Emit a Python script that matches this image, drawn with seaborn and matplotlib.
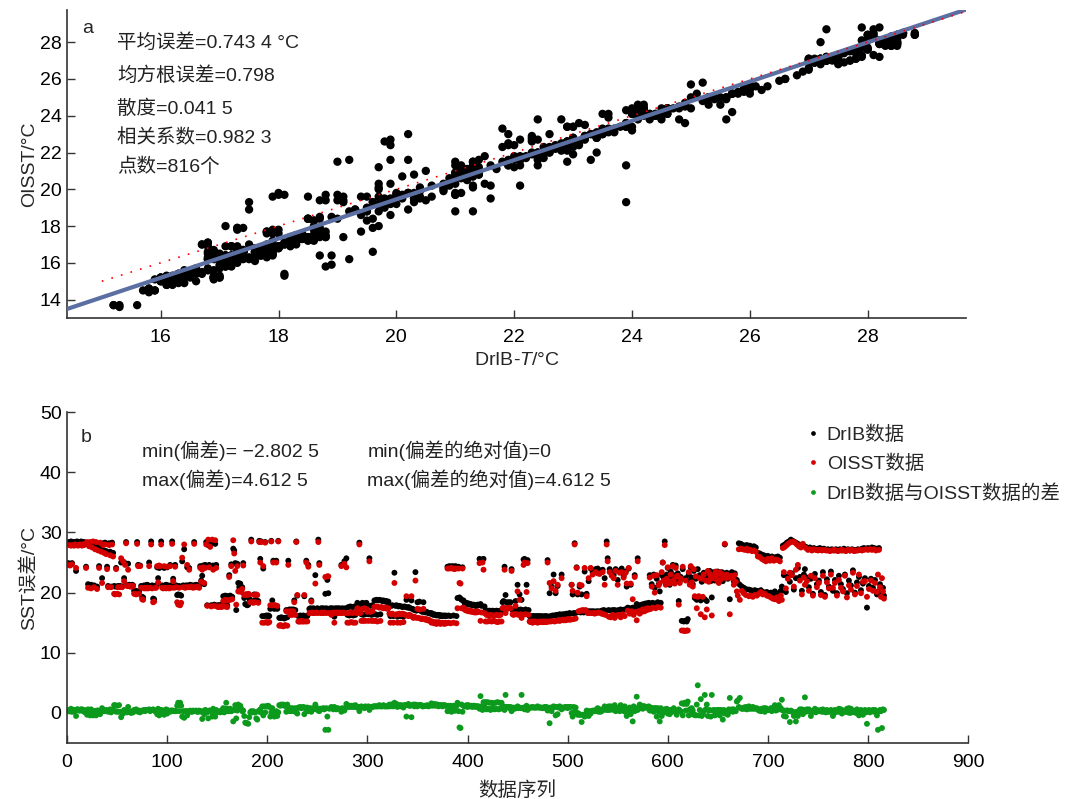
import numpy as np
import pandas as pd
import matplotlib.pyplot as plt
import seaborn as sns

# DrIB / OISST sea surface temperature (°C) per data index
drib_1 = [24.9, 28.4, 24.8, 28.5, 24.9, 28.4, 28.3, 28.4, 23.6, 28.5,
          28.4, 28.3, 28.4, 28.5, 28.4, 28.3, 28.4, 28.2, 24.3, 28.1,
          21.4, 27.9, 28.0, 21.3, 27.7, 28.1, 21.2, 27.5, 28.0, 21.0,
          27.4, 24.4, 28.1, 27.2, 22.4, 28.2, 27.0, 28.3, 26.9, 24.3,
          21.1, 28.2, 26.8, 21.0, 28.3, 26.6, 21.1, 21.0, 24.1, 21.0,
          21.1, 21.0, 21.1, 25.0, 21.0, 25.1, 22.4, 24.9, 28.4, 21.2,
          24.8, 21.3, 21.2, 21.1, 21.3, 21.2, 20.3, 20.2, 20.3, 28.4,
          24.6, 20.2, 24.5, 21.1, 19.3, 19.2, 21.2, 21.1, 21.2, 21.3,
          21.2, 25.0, 21.1, 28.5, 21.2, 19.0, 18.9, 21.1, 21.2, 24.2,
          22.4, 24.1, 24.2, 28.5, 21.2, 21.1, 24.1, 21.2, 21.3, 24.2,
          21.2, 21.1]
oisst_1 = [24.6, 27.9, 24.5, 27.8, 24.7, 27.9, 27.8, 28.0, 24.1, 27.9,
           27.8, 27.9, 28.0, 27.9, 27.8, 28.0, 27.9, 28.1, 24.1, 28.4,
           20.8, 27.7, 28.4, 20.7, 27.5, 28.5, 20.9, 27.2, 28.4, 20.6,
           27.0, 24.1, 28.3, 26.8, 21.6, 27.9, 26.6, 28.0, 26.4, 23.9,
           20.9, 27.9, 26.2, 20.9, 28.0, 26.0, 19.8, 19.7, 23.9, 19.8,
           20.9, 19.7, 20.9, 25.7, 20.9, 25.2, 21.9, 24.6, 28.2, 21.1,
           23.8, 21.1, 21.0, 21.1, 21.0, 21.1, 19.8, 19.8, 19.7, 28.1,
           24.4, 19.8, 24.4, 20.8, 18.9, 18.8, 20.7, 20.8, 20.7, 20.8,
           20.7, 24.4, 20.8, 28.0, 20.7, 18.4, 18.5, 20.8, 20.8, 24.4,
           21.7, 24.5, 24.4, 28.0, 20.8, 20.7, 24.4, 20.8, 20.7, 24.3,
           20.8, 20.7]

drib_2 = [24.6, 21.2, 28.5, 22.3, 21.1, 24.6, 21.2, 19.6, 19.7, 21.1,
          19.6, 19.5, 25.2, 21.2, 27.2, 21.1, 21.2, 24.2, 21.2, 24.1,
          21.3, 21.2, 21.1, 21.2, 28.4, 21.2, 21.3, 21.2, 21.1, 21.2,
          24.4, 22.0, 22.8, 24.5, 21.4, 24.6, 28.4, 17.9, 27.9, 24.6,
          28.0, 17.9, 28.2, 24.5, 18.0, 28.1, 24.6, 17.9, 17.8, 17.9,
          17.8, 18.0, 17.9, 19.4, 17.8, 19.5, 19.4, 17.9, 19.4, 22.9,
          19.5, 24.7, 19.3, 27.3, 27.0, 24.9, 17.1, 24.8, 21.6, 20.9,
          21.5, 20.8, 20.9, 24.9, 19.1, 18.1, 18.0, 17.9, 18.0, 19.0,
          18.5, 28.8, 18.5, 18.6, 19.7, 18.5, 18.8, 18.5, 18.6, 28.6,
          25.6, 28.5, 16.1, 24.0, 16.1, 28.4, 16.2, 16.1, 16.2, 16.1,
          17.3, 28.6]
oisst_2 = [24.4, 20.8, 28.1, 21.9, 20.8, 24.3, 20.9, 18.4, 18.0, 20.8,
           17.9, 18.3, 25.8, 20.9, 28.0, 20.8, 20.9, 24.6, 20.9, 23.8,
           20.9, 21.0, 20.9, 20.8, 28.1, 20.9, 20.9, 21.0, 20.9, 20.8,
           24.1, 21.8, 23.8, 24.2, 21.6, 24.1, 28.0, 17.8, 28.8, 24.2,
           27.6, 17.7, 28.8, 23.8, 17.8, 28.7, 24.1, 17.7, 17.6, 17.7,
           17.7, 17.6, 17.7, 18.6, 17.7, 18.8, 17.7, 17.6, 18.7, 22.6,
           18.8, 24.4, 18.9, 28.7, 26.5, 23.6, 18.0, 24.4, 20.2, 20.2,
           20.3, 20.1, 20.6, 24.5, 19.6, 19.7, 19.7, 19.6, 19.8, 19.7,
           18.4, 28.5, 18.4, 18.3, 19.6, 18.4, 19.7, 19.6, 18.3, 28.4,
           25.0, 28.4, 15.0, 24.4, 15.0, 28.3, 15.1, 15.0, 15.0, 15.1,
           17.9, 28.5]

drib_3 = [18.7, 25.3, 17.3, 17.4, 25.3, 17.3, 28.6, 15.8, 15.8, 15.9,
          15.8, 15.8, 15.7, 15.8, 17.1, 15.9, 25.3, 17.2, 17.1, 17.2,
          17.1, 17.2, 18.7, 17.1, 28.5, 19.5, 16.1, 16.1, 16.2, 16.1,
          16.1, 16.2, 19.4, 16.1, 25.3, 16.1, 24.6, 17.3, 17.4, 18.7,
          17.3, 17.4, 17.3, 22.9, 17.3, 17.4, 28.8, 24.9, 17.3, 17.4,
          17.3, 17.4, 17.3, 19.8, 17.4, 22.1, 19.9, 17.3, 17.4, 17.3,
          17.4, 17.3, 16.0, 17.4, 17.3, 17.4, 17.3, 17.4, 17.3, 24.6,
          17.4, 17.3, 25.2, 17.4, 25.7, 16.3, 17.6, 16.2, 17.7, 16.3,
          17.6, 16.2, 17.7, 16.3, 17.6, 18.3, 17.7, 28.3, 17.6, 16.4,
          18.3, 16.3, 18.2, 16.4, 18.3, 17.8, 16.4, 25.7, 17.8, 16.3,
          17.9, 16.4]
oisst_3 = [17.9, 25.0, 17.9, 17.9, 25.0, 17.8, 28.5, 14.5, 14.6, 14.5,
           14.5, 14.4, 14.5, 14.6, 16.9, 14.5, 24.6, 16.9, 16.3, 16.9,
           16.3, 16.9, 18.4, 16.3, 28.4, 19.6, 15.2, 15.2, 15.2, 15.3,
           15.2, 15.2, 19.6, 15.2, 25.0, 15.2, 24.3, 16.6, 16.6, 18.5,
           16.7, 16.6, 16.6, 21.5, 16.7, 16.6, 28.4, 24.6, 16.6, 16.7,
           16.6, 16.6, 16.7, 22.6, 16.6, 22.7, 22.7, 16.6, 16.6, 16.3,
           16.6, 16.7, 15.0, 16.6, 16.7, 16.6, 16.6, 16.7, 16.6, 24.4,
           16.6, 16.7, 24.8, 16.6, 24.2, 15.0, 16.6, 15.0, 16.7, 15.1,
           16.6, 15.0, 16.7, 15.0, 16.6, 17.4, 16.7, 28.0, 16.6, 15.3,
           17.3, 15.3, 17.4, 15.3, 17.3, 16.8, 15.3, 25.2, 16.8, 15.3,
           16.9, 15.3]

drib_4 = [18.7, 16.4, 18.8, 16.3, 18.7, 18.8, 16.4, 18.7, 18.6, 18.7,
          18.6, 18.5, 18.6, 18.4, 18.5, 17.9, 16.1, 17.8, 17.9, 16.1,
          23.3, 17.8, 17.9, 16.0, 17.7, 17.8, 16.1, 17.7, 17.6, 16.0,
          17.7, 17.6, 18.8, 17.5, 17.6, 17.5, 17.4, 18.7, 17.3, 17.2,
          17.1, 23.4, 17.0, 18.4, 17.1, 18.5, 17.0, 16.9, 16.8, 18.4,
          16.8, 16.7, 16.8, 16.7, 16.6, 16.6, 16.5, 16.6, 16.4, 16.3,
          16.4, 16.3, 16.2, 16.3, 16.2, 16.3, 16.1, 16.2, 16.1, 16.2,
          16.1, 16.2, 16.1, 24.3, 16.2, 24.4, 16.1, 24.3, 24.4, 16.2,
          24.3, 24.4, 16.1, 19.1, 24.3, 19.2, 19.0, 18.8, 24.2, 18.7,
          18.3, 18.2, 18.3, 18.1, 18.2, 18.0, 18.1, 18.0, 17.9, 18.0,
          17.9, 17.8]
oisst_4 = [17.6, 15.3, 17.7, 15.2, 17.6, 17.5, 15.3, 17.6, 17.5, 17.4,
           17.5, 17.4, 17.5, 17.3, 17.4, 16.5, 15.0, 16.4, 16.5, 15.0,
           21.6, 16.3, 16.4, 15.0, 16.4, 16.5, 15.0, 16.4, 16.5, 15.1,
           16.4, 16.3, 19.4, 16.2, 16.1, 16.3, 16.2, 19.4, 16.0, 15.8,
           16.0, 22.0, 15.8, 17.3, 15.8, 17.2, 15.7, 15.6, 15.7, 17.3,
           15.6, 15.5, 15.6, 15.4, 15.5, 15.4, 15.2, 15.0, 15.2, 15.0,
           14.9, 15.1, 14.8, 14.9, 15.1, 15.0, 14.8, 14.9, 15.0, 14.9,
           14.8, 15.0, 14.9, 24.0, 15.0, 24.0, 14.9, 24.1, 24.0, 15.0,
           23.9, 24.0, 14.9, 17.4, 24.0, 21.6, 21.5, 17.4, 24.0, 17.5,
           17.2, 17.1, 17.0, 17.1, 16.9, 16.9, 17.0, 16.8, 16.9, 16.8,
           16.7, 16.8]

drib_5 = [17.8, 18.0, 17.9, 25.6, 18.1, 17.8, 25.5, 25.6, 17.7, 17.0,
          16.9, 17.0, 16.9, 17.0, 16.8, 16.9, 17.0, 16.9, 16.8, 16.9,
          17.0, 16.9, 16.8, 16.9, 17.0, 16.9, 18.4, 18.6, 24.3, 19.6,
          18.4, 18.3, 18.4, 18.3, 18.4, 23.9, 17.1, 17.2, 17.1, 18.6,
          17.2, 21.3, 17.1, 19.7, 17.2, 18.8, 17.1, 25.5, 25.6, 17.2,
          21.3, 25.4, 17.1, 16.1, 16.0, 16.1, 16.0, 16.1, 16.0, 16.1,
          16.0, 16.1, 16.0, 16.1, 16.0, 16.1, 15.9, 16.0, 16.1, 16.0,
          16.1, 25.4, 16.0, 19.9, 16.1, 21.0, 16.2, 23.0, 16.2, 19.9,
          16.3, 21.1, 16.3, 16.4, 16.3, 23.0, 16.4, 16.3, 16.4, 16.4,
          16.5, 16.4, 16.5, 16.6, 16.5, 21.3, 19.7, 16.6, 28.2, 16.6,
          24.2, 19.7]
oisst_5 = [16.7, 16.9, 16.8, 24.9, 15.3, 16.7, 25.0, 23.8, 16.6, 15.2,
           16.3, 15.2, 16.2, 15.3, 16.3, 15.2, 16.2, 15.3, 16.2, 15.2,
           16.3, 15.1, 16.2, 15.2, 16.3, 15.2, 17.4, 17.5, 23.8, 16.6,
           17.4, 17.3, 17.4, 17.5, 17.4, 23.6, 16.4, 16.3, 16.4, 17.8,
           16.4, 20.2, 16.3, 18.8, 16.4, 15.8, 16.3, 24.6, 25.0, 16.4,
           20.1, 24.9, 16.3, 15.2, 15.1, 15.2, 15.0, 15.2, 15.1, 15.2,
           15.1, 15.0, 15.1, 15.2, 15.1, 15.2, 15.1, 15.2, 15.1, 15.2,
           15.1, 25.0, 15.2, 21.6, 15.2, 20.7, 15.3, 21.9, 15.2, 20.3,
           15.3, 21.3, 15.4, 15.3, 15.4, 22.4, 15.5, 15.4, 15.5, 15.4,
           15.5, 15.6, 15.5, 15.6, 15.5, 21.3, 20.3, 15.6, 28.0, 15.7,
           24.1, 20.0]

drib_6 = [16.8, 21.0, 16.7, 19.7, 16.8, 16.7, 23.5, 16.8, 19.8, 16.9,
          21.9, 16.9, 24.0, 16.9, 23.4, 16.9, 16.8, 23.9, 16.9, 24.0,
          16.9, 23.7, 16.8, 17.0, 23.8, 17.1, 22.4, 17.0, 28.5, 25.7,
          17.1, 23.9, 17.0, 23.4, 17.1, 22.9, 17.1, 23.9, 17.0, 22.1,
          17.1, 23.6, 17.2, 24.0, 17.1, 22.8, 17.2, 23.5, 21.0, 17.5,
          24.0, 17.4, 21.3, 17.3, 17.5, 17.4, 22.9, 17.6, 18.1, 25.7,
          17.8, 17.9, 17.8, 18.0, 17.9, 18.1, 18.0, 18.2, 18.1, 18.2,
          18.3, 22.9, 18.2, 21.4, 18.3, 23.0, 20.8, 18.2, 22.3, 18.4,
          21.4, 20.2, 18.3, 22.9, 25.0, 22.4, 28.5, 21.6, 23.0, 24.1,
          22.4, 21.3, 23.5, 22.1, 24.6, 22.9, 21.8, 24.5, 22.4, 23.2,
          18.6, 21.9]
oisst_6 = [16.9, 21.3, 17.0, 21.2, 17.1, 17.0, 24.1, 17.1, 19.4, 16.6,
           22.4, 16.6, 24.1, 16.6, 23.0, 16.6, 16.5, 23.4, 16.6, 23.2,
           16.7, 23.1, 16.6, 16.5, 23.4, 16.4, 21.3, 16.3, 28.0, 25.2,
           16.0, 23.4, 15.9, 22.8, 16.3, 22.4, 15.8, 23.6, 16.2, 21.3,
           16.3, 23.3, 15.9, 23.4, 16.4, 22.5, 16.1, 23.3, 21.5, 17.0,
           24.1, 16.5, 21.5, 16.9, 18.9, 16.3, 22.6, 16.8, 15.4, 25.2,
           16.9, 16.5, 17.0, 16.8, 17.2, 17.0, 16.9, 17.3, 17.1, 17.4,
           17.2, 22.5, 17.3, 21.0, 17.5, 22.8, 20.0, 17.4, 22.9, 17.6,
           21.2, 21.6, 17.5, 23.4, 25.0, 22.0, 27.9, 21.3, 22.3, 24.2,
           21.9, 21.5, 23.0, 21.7, 24.4, 22.1, 21.5, 24.1, 22.7, 22.8,
           18.0, 21.6]

drib_7 = [22.6, 15.3, 23.9, 15.2, 15.3, 22.4, 15.2, 15.6, 23.0, 21.9,
          24.2, 22.5, 21.4, 23.6, 19.1, 22.3, 18.8, 23.9, 19.0, 22.9,
          18.7, 21.8, 19.1, 23.3, 18.9, 22.6, 18.6, 23.1, 22.2, 23.6,
          21.9, 19.2, 22.8, 23.4, 22.0, 23.2, 22.6, 23.5, 22.1, 23.0,
          22.7, 23.4, 21.9, 23.2, 28.0, 22.7, 23.3, 22.3, 23.1, 18.9,
          22.9, 23.4, 22.5, 21.9, 23.2, 22.1, 22.1, 21.6, 28.2, 21.3,
          28.1, 21.0, 27.9, 20.8, 27.8, 20.6, 27.9, 27.7, 20.5, 27.8,
          20.4, 27.6, 20.3, 27.7, 20.4, 27.5, 20.3, 26.6, 20.2, 26.5,
          20.4, 26.3, 20.1, 26.2, 20.0, 26.0, 20.1, 26.1, 19.9, 25.9,
          20.0, 26.0, 19.8, 25.8, 20.2, 25.9, 19.7, 26.0, 19.9, 25.8,
          20.3, 21.0]
oisst_7 = [22.3, 13.7, 24.3, 13.7, 13.6, 22.0, 13.7, 13.7, 23.4, 21.3,
           24.4, 21.7, 21.0, 23.9, 19.4, 22.7, 17.4, 19.3, 19.4, 22.4,
           16.4, 22.3, 19.3, 23.0, 15.9, 22.0, 17.2, 23.6, 21.8, 23.1,
           22.5, 16.2, 22.4, 22.9, 22.4, 23.5, 22.1, 23.0, 21.6, 23.4,
           22.2, 23.1, 23.0, 22.7, 28.1, 22.4, 23.0, 22.6, 22.5, 16.4,
           22.6, 22.8, 22.3, 21.3, 22.9, 21.8, 20.2, 19.5, 27.2, 18.8,
           27.3, 20.3, 27.2, 19.9, 27.1, 19.6, 27.3, 27.0, 19.4, 27.1,
           19.5, 26.9, 19.3, 27.0, 19.6, 26.8, 19.5, 26.0, 19.8, 25.9,
           20.1, 25.6, 19.7, 25.4, 19.8, 25.2, 19.5, 25.6, 19.4, 25.3,
           19.2, 25.7, 19.0, 25.3, 18.9, 25.5, 19.2, 25.4, 18.6, 25.2,
           19.5, 18.8]

drib_8 = [27.8, 22.9, 28.0, 20.1, 28.3, 22.7, 28.5, 21.8, 28.8, 23.2,
          28.6, 20.5, 28.4, 22.4, 28.2, 24.1, 28.0, 22.6, 27.8, 20.3,
          27.9, 23.0, 23.9, 27.6, 22.5, 27.4, 20.9, 27.5, 22.3, 27.3,
          19.8, 27.4, 23.1, 27.2, 21.4, 27.3, 22.0, 27.4, 20.1, 27.2,
          23.4, 27.3, 19.6, 27.1, 22.2, 27.2, 21.0, 27.1, 23.5, 27.2,
          20.3, 27.0, 22.1, 27.2, 19.9, 27.1, 22.8, 27.2, 21.4, 27.0,
          20.6, 27.3, 23.0, 27.1, 19.9, 27.2, 22.0, 27.0, 21.2, 27.2,
          23.7, 27.1, 20.0, 27.0, 21.7, 27.2, 22.6, 27.1, 20.4, 27.3,
          21.5, 27.4, 22.4, 27.3, 17.5, 27.4, 21.1, 27.3, 22.3, 27.5,
          20.8, 27.4, 22.1, 27.3, 19.7, 20.2, 27.4, 21.4, 19.6, 19.9,
          20.8, 19.5]
oisst_8 = [27.4, 23.4, 27.6, 20.7, 27.9, 22.3, 28.2, 23.3, 28.4, 22.9,
           28.5, 21.0, 28.3, 23.8, 28.0, 24.6, 27.7, 22.0, 27.5, 19.7,
           28.1, 22.5, 21.3, 27.4, 21.9, 27.1, 20.3, 27.2, 22.8, 27.0,
           19.5, 27.2, 22.4, 27.1, 20.9, 27.0, 21.6, 27.1, 19.6, 27.0,
           22.8, 27.1, 19.3, 27.0, 21.7, 27.0, 20.7, 26.9, 23.0, 27.0,
           20.8, 27.1, 21.6, 27.0, 19.5, 26.9, 22.1, 27.0, 20.8, 27.1,
           20.2, 27.0, 22.8, 26.9, 19.2, 27.1, 21.2, 27.0, 20.5, 27.1,
           23.3, 26.9, 19.7, 27.0, 21.1, 27.0, 23.0, 27.1, 19.9, 27.0,
           21.8, 27.1, 21.9, 27.2, 19.3, 27.1, 20.6, 27.2, 22.0, 27.1,
           20.3, 27.2, 21.6, 27.0, 20.1, 23.0, 27.1, 20.9, 19.3, 22.4,
           20.2, 19.0]

# fitted line of panel a (slope, intercept)
fit_slope = 1.067
fit_intercept = -1.885

stats_a = ['平均误差=0.743 4 °C', '均方根误差=0.798', '散度=0.041 5',
           '相关系数=0.982 3', '点数=816个']
stats_b_left = ['min(偏差)= \u22122.802 5', 'max(偏差)=4.612 5']
stats_b_right = ['min(偏差的绝对值)=0', 'max(偏差的绝对值)=4.612 5']
series_names = ['DrIB数据', 'OISST数据', 'DrIB数据与OISST数据的差']

drib = np.array(drib_1 + drib_2 + drib_3 + drib_4 + drib_5 + drib_6 + drib_7 + drib_8)
oisst = np.array(oisst_1 + oisst_2 + oisst_3 + oisst_4 + oisst_5 + oisst_6 + oisst_7 + oisst_8)
assert len(drib) == len(oisst) == 816, (len(drib), len(oisst))
bias = np.round(drib - oisst, 2)
index = np.arange(1, len(drib) + 1)

sns.set_theme(style='ticks')
plt.rcParams['font.family'] = ['Liberation Sans', 'Noto Sans CJK SC']
plt.rcParams['mathtext.fontset'] = 'custom'
plt.rcParams['mathtext.rm'] = 'Liberation Sans'
plt.rcParams['mathtext.it'] = 'Liberation Sans:italic'
plt.rcParams['axes.unicode_minus'] = False

FS = 14
fig = plt.figure(figsize=(10.71, 7.99), dpi=100)
ax_a = fig.add_axes([0.0626, 0.602, 0.8394, 0.3855])
ax_b = fig.add_axes([0.0626, 0.070, 0.8413, 0.4143])

# ---- panel a: scatter OISST vs DrIB
sns.scatterplot(x=drib, y=oisst, color='black', s=36, edgecolor='none',
                linewidth=0, ax=ax_a, zorder=2)
xlim_a = (14.41, 29.67)
fit_x = np.array(xlim_a)
sns.lineplot(x=fit_x, y=fit_slope * fit_x + fit_intercept, color='#5b6fa2',
             lw=3, ax=ax_a, zorder=3)
one_x = np.array([15.0, xlim_a[1]])
ax_a.plot(one_x, one_x, color='red', lw=1.2, ls=(0, (1, 5)), zorder=4)
ax_a.set_xlim(*xlim_a)
ax_a.set_ylim(13.0, 29.75)
ax_a.set_xticks(np.arange(16, 29, 2))
ax_a.set_yticks(np.arange(14, 29, 2))
ax_a.set_xlabel('DrIB-$T$/°C', fontsize=FS, labelpad=4)
ax_a.set_ylabel('OISST/°C', fontsize=FS, labelpad=1)
ax_a.text(14.66, 28.77, 'a', fontsize=FS, va='center', ha='left')
for s, y in zip(stats_a, [28.0, 26.2, 24.37, 22.8, 21.22]):
    ax_a.text(15.26, y, s, fontsize=FS, va='center', ha='left', color='#222222')

# ---- panel b: series against data index
long = pd.DataFrame({
    'idx': np.concatenate([index, index, index]),
    'value': np.concatenate([drib, oisst, bias]),
    'series': np.repeat(series_names, len(index)),
})
sns.scatterplot(data=long, x='idx', y='value', hue='series', hue_order=series_names,
                palette=['black', '#d40000', '#0b9a1c'], s=18, edgecolor='none',
                linewidth=0, ax=ax_b)
ax_b.set_xlim(0, 900)
ax_b.set_ylim(-5, 50)
ax_b.set_xticks(np.arange(0, 901, 100))
ax_b.set_yticks(np.arange(0, 51, 10))
ax_b.set_xlabel('数据序列', fontsize=FS, labelpad=7)
ax_b.set_ylabel('SST误差/°C', fontsize=FS, labelpad=1)
ax_b.text(14, 45.8, 'b', fontsize=FS, va='center', ha='left')
for s, y in zip(stats_b_left, [43.6, 38.8]):
    ax_b.text(75, y, s, fontsize=FS, va='center', ha='left', color='#222222')
for s, y in zip(stats_b_right, [43.6, 38.8]):
    ax_b.text(300, y, s, fontsize=FS, va='center', ha='left', color='#222222')
sns.move_legend(ax_b, 'upper left', bbox_to_anchor=(0.8085, 0.983), frameon=False,
                title=None, fontsize=FS, handlelength=1.0, handletextpad=0.2,
                labelspacing=0.56, markerscale=0.8, borderaxespad=0)

for ax in (ax_a, ax_b):
    sns.despine(ax=ax)
    for sp in ('left', 'bottom'):
        ax.spines[sp].set_color('#333333')
        ax.spines[sp].set_linewidth(1.2)
    ax.tick_params(direction='in', length=6, width=1, colors='#333333',
                   labelcolor='black', labelsize=FS)
    ax.tick_params(axis='x', pad=8)
    ax.tick_params(axis='y', pad=4)

fig.savefig('out.png', dpi=100)
